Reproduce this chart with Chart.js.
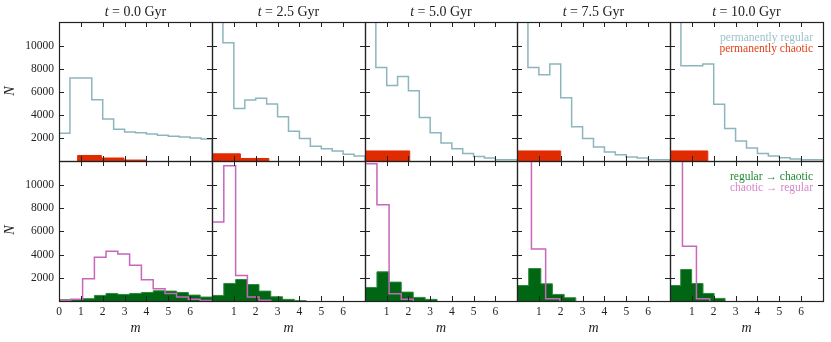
<!DOCTYPE html>
<html><head><meta charset="utf-8">
<script src="https://cdn.jsdelivr.net/npm/chart.js@4/dist/chart.umd.min.js"></script>
<style>
body{margin:0;background:#fff;}
#wrap{position:relative;width:831px;height:342px;overflow:hidden;font-family:'Liberation Serif','DejaVu Serif',serif;color:#222;}
canvas{position:absolute;left:0;top:0;}
.ttl{position:absolute;top:4px;font-size:14px;text-align:center;white-space:nowrap;}
.lab{position:absolute;font-size:14px;font-style:italic;}
.leg{position:absolute;right:18px;font-size:11.5px;text-align:right;line-height:10.5px;white-space:nowrap;}
</style></head>
<body><div id="wrap"></div>
<script>
// ---------- data ----------
const times = ['0.0','2.5','5.0','7.5','10.0'];
const yTickValues = [2000,4000,6000,8000,10000];
const xTickValuesFirst = [0,1,2,3,4,5,6];
const xTickValuesOther = [1,2,3,4,5,6];

// permanently regular (step, bins of 0.5)
const regEdges = [0,0.5,1,1.5,2,2.5,3,3.5,4,4.5,5,5.5,6,6.5,7];
const regular_t00 = [2400,7200,7200,5300,3650,2750,2520,2440,2330,2240,2150,2090,2000,1900];
const regular_t25 = [16000,10250,4560,5290,5440,4950,3830,2580,1950,1280,1070,870,580,430];
const regular_t50 = [16000,8110,6540,7330,6080,3780,2440,1570,1070,640,400,255,110,110];
const regular_t75 = [16000,8110,7470,8400,5490,2960,1950,1220,780,550,340,255,110,110];
const regular_t100 = [16000,8250,8250,8400,4910,2820,1740,1130,640,430,285,170,110,110];

// permanently chaotic (filled)
const chaoticEdges_t00 = [0.85,1.94,2.97,4.0];   const chaotic_t00 = [480,260,80];
const chaoticEdges_t25 = [0,1.3,2.6];           const chaotic_t25 = [620,220];
const chaoticEdges_t50 = [0,2.06];              const chaotic_t50 = [870];
const chaoticEdges_t75 = [0,2.0];               const chaotic_t75 = [870];
const chaoticEdges_t100 = [0,1.73];             const chaotic_t100 = [870];

// regular -> chaotic (filled, green)
const r2cEdges_t00 = [0,0.54,1.08,1.62,2.15,2.69,3.23,3.77,4.31,4.85,5.38,5.92,6.46,7];
const r2c_t00 = [100,100,200,480,650,565,650,735,880,850,735,507,340];
const r2cEdges_t25 = [0,0.54,1.08,1.62,2.15,2.69,3.23,3.77,4.31];
const r2c_t25 = [480,1510,1850,1420,850,365,140,30];
const r2cEdges_t50 = [0,0.55,1.11,1.67,2.22,2.77,3.32];
const r2c_t50 = [1165,2510,1625,765,310,140];
const r2cEdges_t75 = [0,0.535,1.09,1.62,2.16,2.69];
const r2c_t75 = [1335,2790,1480,565,280];
const r2cEdges_t100 = [0,0.49,0.99,1.51,2.02,2.52];
const r2c_t100 = [1335,2710,1510,650,225];

// chaotic -> regular (step, magenta)
const c2rEdges_t00 = [0,0.54,1.08,1.62,2.15,2.69,3.23,3.77,4.31,4.85,5.38,5.92,6.46,7];
const c2r_t00 = [50,150,1910,3770,4280,4050,3080,1820,1050,650,340,150,50];
const c2rEdges_t25 = [0,0.54,1.08,1.62,2.15,2.69];
const c2r_t25 = [6790,11650,2190,340,60];
const c2rEdges_t50 = [0,0.55,1.11,1.67,2.22];
const c2r_t50 = [11820,8280,620,140];
const c2rEdges_t75 = [0,0.66,1.31,1.96];
const c2r_t75 = [16000,4480,195];
const c2rEdges_t100 = [0,0.57,1.21,1.82];
const c2r_t100 = [16000,4710,195];

// ---------- build ----------
const regularSets = [regular_t00,regular_t25,regular_t50,regular_t75,regular_t100];
const chaoticSets = [[chaoticEdges_t00,chaotic_t00],[chaoticEdges_t25,chaotic_t25],[chaoticEdges_t50,chaotic_t50],[chaoticEdges_t75,chaotic_t75],[chaoticEdges_t100,chaotic_t100]];
const r2cSets = [[r2cEdges_t00,r2c_t00],[r2cEdges_t25,r2c_t25],[r2cEdges_t50,r2c_t50],[r2cEdges_t75,r2c_t75],[r2cEdges_t100,r2c_t100]];
const c2rSets = [[c2rEdges_t00,c2r_t00],[c2rEdges_t25,c2r_t25],[c2rEdges_t50,c2r_t50],[c2rEdges_t75,c2r_t75],[c2rEdges_t100,c2r_t100]];

const W = 831, H = 342;
const XE = [59,212,365,517,670,823];
const YE = [22,161,301];
const YMAX = 12050;
const YAXIS_W = 50, XAXIS_H = 20;

const COL = {cyan:'#8db5bd', red:'#e02a00', green:'#006614', greenEdge:'#2f8a3c', mag:'#c866bb', frame:'#222'};

function stepPoints(edges, values){
  const pts = [{x:edges[0], y:0}];
  values.forEach((v,i)=>pts.push({x:edges[i], y:v}));
  pts.push({x:edges[edges.length-1], y:values[values.length-1]});
  pts.push({x:edges[edges.length-1], y:0});
  return pts;
}

const framePlugin = {
  id:'frameTicks',
  afterDatasetsDraw(chart){
    const {ctx, chartArea:a, scales:{x,y}} = chart;
    ctx.save();
    ctx.strokeStyle = COL.frame; ctx.lineWidth = 1;
    ctx.beginPath();
    x.ticks.forEach(t=>{
      const px = Math.round(x.getPixelForValue(t.value))+0.5;
      ctx.moveTo(px,a.bottom); ctx.lineTo(px,a.bottom-5);
      ctx.moveTo(px,a.top); ctx.lineTo(px,a.top+5);
    });
    y.ticks.forEach(t=>{
      const py = Math.round(y.getPixelForValue(t.value))+0.5;
      ctx.moveTo(a.left,py); ctx.lineTo(a.left+5,py);
      ctx.moveTo(a.right,py); ctx.lineTo(a.right-5,py);
    });
    ctx.stroke();
    ctx.lineWidth = 1.2;
    ctx.strokeRect(a.left+0.5, a.top+0.5, a.right-a.left, a.bottom-a.top);
    ctx.restore();
  }
};

Chart.defaults.font.family = "'Liberation Serif','DejaVu Serif',serif";
Chart.defaults.font.size = 11.5;
Chart.defaults.color = '#222';

const wrap = document.getElementById('wrap');

function makePanel(col,row){
  const cv = document.createElement('canvas');
  cv.width = W; cv.height = H;
  wrap.appendChild(cv);
  let datasets;
  if(row===0){
    const [ce,cv2] = chaoticSets[col];
    datasets = [
      {data:stepPoints(regEdges, regularSets[col]), borderColor:COL.cyan, borderWidth:1.5, fill:false, stepped:true, pointRadius:0, clip:0, order:2},
      {data:stepPoints(ce,cv2), borderColor:COL.red, backgroundColor:COL.red, borderWidth:1, fill:'origin', stepped:true, pointRadius:0, clip:0, order:1}
    ];
  } else {
    const [ge,gv] = r2cSets[col];
    const [me,mv] = c2rSets[col];
    datasets = [
      {data:stepPoints(ge,gv), borderColor:COL.greenEdge, backgroundColor:COL.green, borderWidth:1, fill:'origin', stepped:true, pointRadius:0, clip:0, order:2},
      {data:stepPoints(me,mv), borderColor:COL.mag, borderWidth:1.5, fill:false, stepped:true, pointRadius:0, clip:0, order:1}
    ];
  }
  const xTicks = col===0 ? xTickValuesFirst : xTickValuesOther;
  const yW = col===0 ? YAXIS_W : 0;
  const xH = row===1 ? XAXIS_H : 0;
  new Chart(cv, {
    type:'line',
    data:{datasets},
    options:{
      responsive:false, animation:false, events:[],
      layout:{padding:{left:XE[col]-yW, right:W-XE[col+1], top:YE[row], bottom:H-YE[row+1]-xH}},
      plugins:{legend:{display:false}, tooltip:{enabled:false}},
      scales:{
        x:{type:'linear', min:0, max:7,
           grid:{display:false, drawTicks:false}, border:{display:false},
           ticks:{display: row===1, padding:4, autoSkip:false, maxRotation:0, font:{size:11.5}, callback:v=>String(v)},
           afterBuildTicks:s=>{ s.ticks = xTicks.map(v=>({value:v})); },
           afterFit:s=>{ s.height = xH; }},
        y:{type:'linear', min:0, max:YMAX,
           grid:{display:false, drawTicks:false}, border:{display:false},
           ticks:{display: col===0, padding:5, autoSkip:false, font:{size:11.5}, callback:v=>String(v)},
           afterBuildTicks:s=>{ s.ticks = yTickValues.map(v=>({value:v})); },
           afterFit:s=>{ s.width = yW; }}
      }
    },
    plugins:[framePlugin]
  });
}
for(let r=0;r<2;r++) for(let c=0;c<5;c++) makePanel(c,r);

// ---------- text ----------
function addDiv(cls, html, style){
  const d = document.createElement('div'); d.className = cls; d.innerHTML = html;
  Object.assign(d.style, style); wrap.appendChild(d); return d;
}
times.forEach((t,i)=>{
  addDiv('ttl', '<i>t</i> = '+t+' Gyr', {left:XE[i]+'px', width:(XE[i+1]-XE[i])+'px'});
  addDiv('lab', 'm', {left:XE[i]+'px', width:(XE[i+1]-XE[i])+'px', textAlign:'center', top:'320px'});
});
[0,1].forEach(r=>{
  const cy = (YE[r]+YE[r+1])/2;
  addDiv('lab', 'N', {left:'3px', top:(cy-9)+'px', transform:'rotate(-90deg)', width:'14px', textAlign:'center'});
});
addDiv('leg', '<span style="color:#9cc2ca">permanently regular</span><br><span style="color:#e2401a">permanently chaotic</span>', {top:'32px'});
addDiv('leg', '<span style="color:#1f8a33">regular → chaotic</span><br><span style="color:#d487cc">chaotic → regular</span>', {top:'171px'});
</script>
</body></html>
